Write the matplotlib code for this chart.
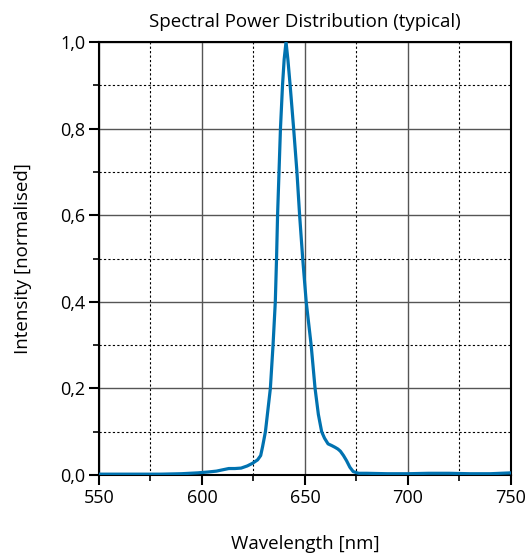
import matplotlib
matplotlib.use("Agg")
import matplotlib.pyplot as plt
from matplotlib.ticker import MultipleLocator, FuncFormatter

plt.rcParams["font.family"] = ["Open Sans", "DejaVu Sans"]

# spectrum (wavelength in nm, normalised intensity)
wavelength = [550, 560, 570, 580, 590, 598, 603, 607, 610, 613, 616, 619,
              622, 624.5, 627, 628.5, 629.4, 630.8, 632.0, 633.2, 634.5,
              635.6, 636.2, 636.7, 637.4, 638.1, 639.1, 639.9, 640.8, 641.7,
              642.8, 644.5, 646.1, 647.4, 648.9, 650.6, 653.0, 654.9, 656.5,
              658.1, 659.5, 661.2, 663.0, 664.6, 666.0, 667.2, 668.7, 670.2,
              671.8, 673.4, 676, 680, 690, 700, 710, 720, 730, 740, 750]
intensity = [0.002, 0.002, 0.002, 0.002, 0.003, 0.005, 0.007, 0.009, 0.012,
             0.015, 0.015, 0.016, 0.021, 0.027, 0.035, 0.045, 0.065, 0.10,
             0.15, 0.20, 0.30, 0.40, 0.50, 0.60, 0.70, 0.80, 0.90, 0.96,
             1.00, 0.96, 0.90, 0.80, 0.70, 0.60, 0.50, 0.40, 0.30, 0.20,
             0.14, 0.10, 0.085, 0.072, 0.068, 0.064, 0.060, 0.055, 0.045,
             0.033, 0.018, 0.008, 0.004, 0.004, 0.003, 0.003, 0.004, 0.004,
             0.003, 0.003, 0.005]

fig = plt.figure(figsize=(5.29, 5.58), dpi=100)
ax = fig.add_axes([0.1871, 0.1487, 0.7788, 0.776])

ax.plot(wavelength, intensity, color="#0072b0", lw=2.3, zorder=3)

ax.set_xlim(550, 750)
ax.set_ylim(0, 1)
ax.xaxis.set_major_locator(MultipleLocator(50))
ax.xaxis.set_minor_locator(MultipleLocator(25))
ax.yaxis.set_major_locator(MultipleLocator(0.2))
ax.yaxis.set_minor_locator(MultipleLocator(0.1))
ax.yaxis.set_major_formatter(FuncFormatter(lambda v, p: f"{v:.1f}".replace(".", ",")))

ax.grid(which="major", color="#555555", lw=1.0, ls="-")
ax.grid(which="minor", color="black", lw=0.8, ls=(0, (2, 2)))
ax.set_axisbelow(True)

for s in ax.spines.values():
    s.set_linewidth(1.5)
ax.tick_params(which="major", direction="out", length=7, width=1.5,
               labelsize=13, pad=3)
ax.tick_params(which="minor", direction="out", length=4, width=1.2)

ax.set_title("Spectral Power Distribution (typical)", fontsize=13.5, pad=11)
ax.set_xlabel("Wavelength [nm]", fontsize=13.5, labelpad=20)
ax.set_ylabel("Intensity [normalised]", fontsize=13.5, labelpad=20)

fig.savefig("out.png", dpi=100)
